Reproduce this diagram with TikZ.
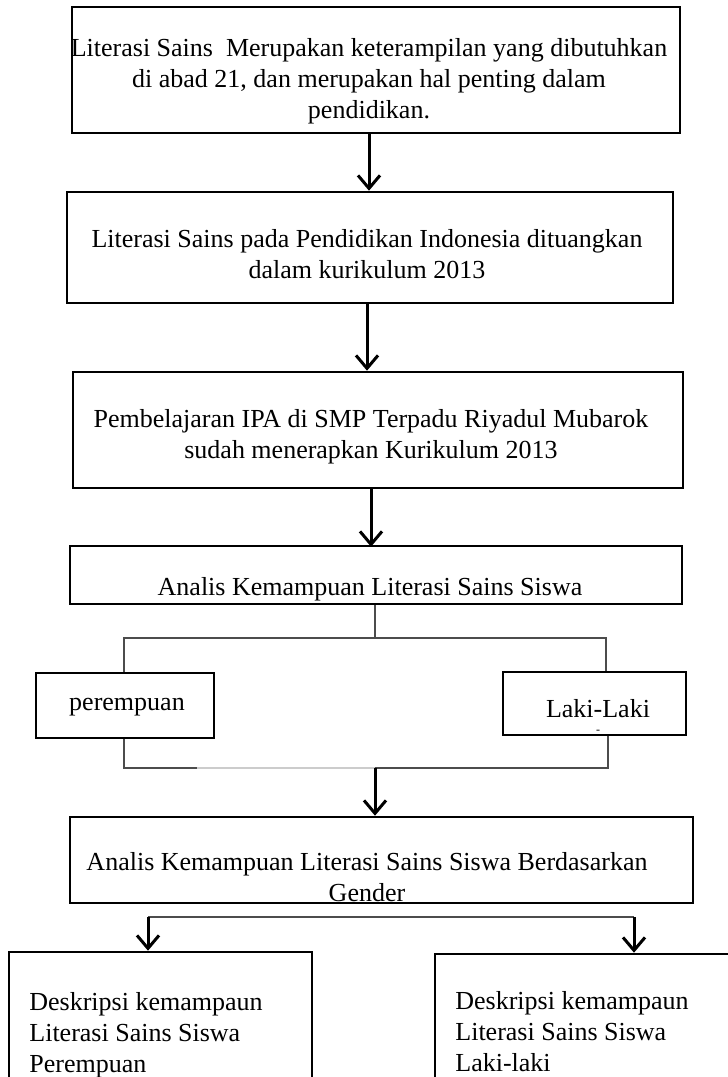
\documentclass[tikz,border=0pt]{standalone}
\usepackage{fontspec}
\setmainfont{Liberation Serif}
\usetikzlibrary{arrows.meta}

\begin{document}
\begin{tikzpicture}[x=1pt, y=-1pt, thick,
  main/.style = {draw, rectangle, line width=2.6pt, inner sep=0pt},
  txt/.style = {align=center, inner sep=0pt, font=\fontsize{26}{31}\selectfont},
  line/.style = {draw=black!70, line width=1.2pt},
  arr/.style = {line width=3pt, -{Straight Barb[length=13pt, width=22pt]}}]
\useasboundingbox (0,0) rectangle (728,1077);
\clip (0,0) rectangle (728,1077);
% boxes
\node[main, minimum width=608, minimum height=126] (1) at (376,70) {};
\node[txt] (1t) at (369,81) {Literasi Sains\ \ Merupakan keterampilan yang dibutuhkan\\ di abad 21, dan merupakan hal penting dalam\\ pendidikan.};
\node[main, minimum width=606, minimum height=111] (2) at (370,247.5) {};
\node[txt] (2t) at (367,254) {Literasi Sains pada Pendidikan Indonesia dituangkan\\ dalam kurikulum 2013};
\node[main, minimum width=610, minimum height=116] (3) at (378,430) {};
\node[txt] (3t) at (371,437) {Pembelajaran IPA di SMP Terpadu Riyadul Mubarok\\ sudah menerapkan Kurikulum 2013};
\node[main, minimum width=612, minimum height=58] (4) at (376,575) {};
\node[txt] (4t) at (370,589) {Analis Kemampuan Literasi Sains Siswa};
\node[main, minimum width=178, minimum height=65] (5) at (125,705.5) {};
\node[txt] (5t) at (127,707) {perempuan};
\node[main, minimum width=183, minimum height=63] (6) at (594.5,703.5) {};
\node[txt] (6t) at (598,709) {Laki-Laki};
\node[font=\fontsize{12}{12}\selectfont, inner sep=0pt] (6d) at (598,732) {-};
\node[main, minimum width=623, minimum height=86] (7) at (381.5,860) {};
\node[txt] (7t) at (367,877) {Analis Kemampuan Literasi Sains Siswa Berdasarkan\\ Gender};
\node[main, minimum width=303, minimum height=168] (8) at (160.5,1036) {};
\node[txt, align=left, anchor=base west] (8t) at (29,1072) {Deskripsi kemampaun\\ Literasi Sains Siswa\\ Perempuan};
\node[main, minimum width=315, minimum height=166] (9) at (592.5,1037) {};
\node[txt, align=left, anchor=base west] (9t) at (455,1071) {Deskripsi kemampaun\\ Literasi Sains Siswa\\ Laki-laki};
% branch points
\coordinate (a) at (375,638);
\coordinate (al) at (124,638);
\coordinate (ar) at (606,638);
\coordinate (bl) at (124,768);
\coordinate (g) at (197,768);
\coordinate (b) at (375,768);
\coordinate (br) at (608,768);
\coordinate (c1) at (148,917);
\coordinate (c2) at (634,917);
% connectors
\draw[arr] (1t |- 1.south) -- (1t |- 2.north);
\draw[arr] (2t |- 2.south) -- (2t |- 3.north);
\draw[arr] (3t |- 3.south) -- ([yshift=-2pt]3t |- 4.north);
\draw[line] (4.south -| a) -- (a);
\draw[line] (5.north -| al) -- (al) -- (ar) -- (6.north -| ar);
\draw[line] (5.south -| bl) -- (bl) -- (g);
\draw[draw=black!20, line width=1.2pt] (g) -- (b);
\draw[line] (b) -- (br) -- (6.south -| br);
\draw[arr] (b) -- (7.north -| b);
\draw[line] (c1) -- (c2);
\draw[arr] (c1) -- (8.north -| c1);
\draw[arr] (c2) -- (9.north -| c2);
\end{tikzpicture}
\end{document}
